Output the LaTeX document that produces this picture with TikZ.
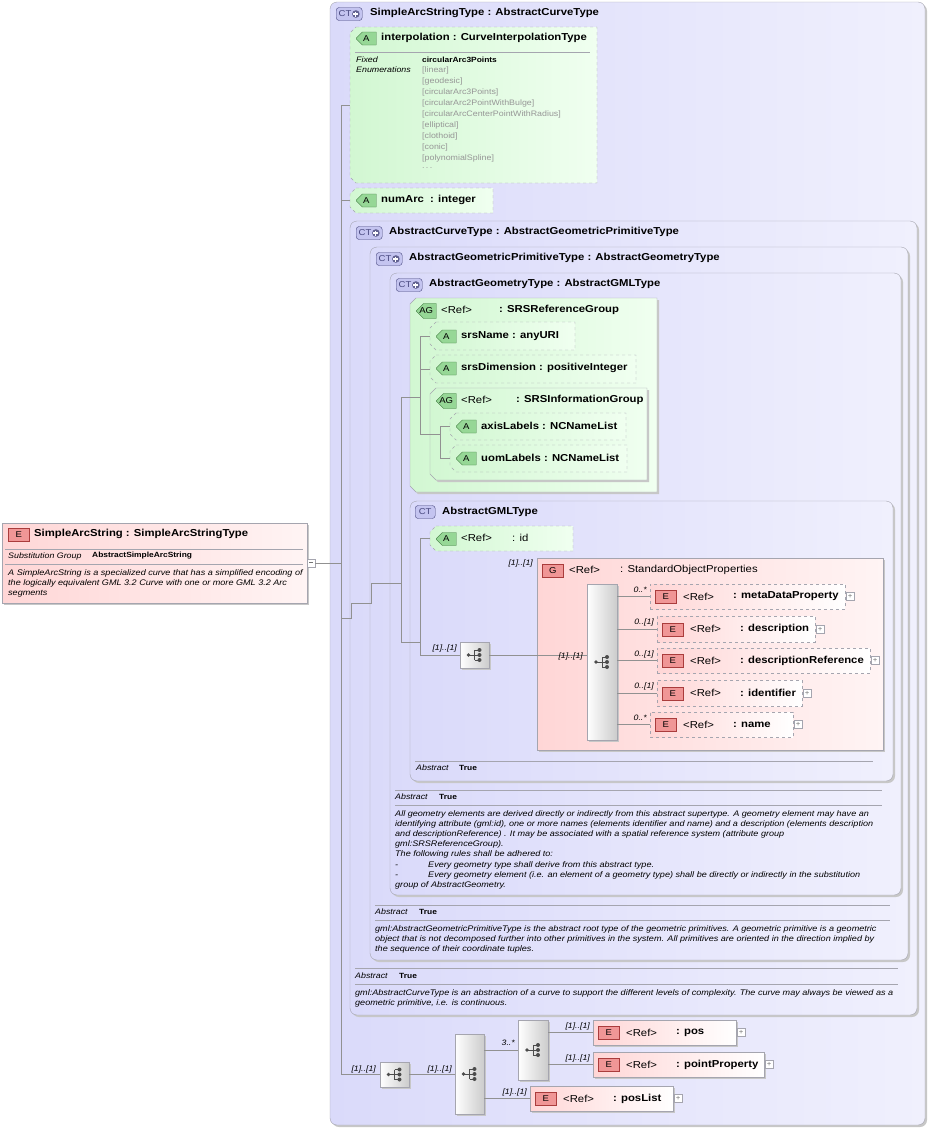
\documentclass[tikz,border=0pt]{standalone}
\usepackage{fontspec}
\setmainfont{Liberation Sans}[FakeStretch=1.12]
\usetikzlibrary{fit,shapes.misc,shadows}

\definecolor{ctL}{RGB}{218,218,250}
\definecolor{ctR}{RGB}{240,240,253}
\definecolor{grnL}{RGB}{210,247,210}
\definecolor{grnR}{RGB}{240,255,240}
\definecolor{pnkL}{RGB}{255,214,214}
\definecolor{pnkR}{RGB}{255,244,244}
\definecolor{boxline}{RGB}{165,165,175}
\definecolor{wirecol}{RGB}{145,145,145}
\definecolor{ctbfill}{RGB}{196,196,240}
\definecolor{ctbline}{RGB}{70,70,125}
\definecolor{abfill}{RGB}{150,215,150}
\definecolor{abline}{RGB}{60,120,60}
\definecolor{ebfill}{RGB}{240,150,150}
\definecolor{ebline}{RGB}{170,60,60}
\definecolor{enumgray}{RGB}{150,150,150}

\tikzset{
  shadowed/.style={drop shadow={shadow xshift=2pt, shadow yshift=-2pt, fill=black!22, opacity=1}},
  ctbox/.style={draw=boxline, rounded corners=7pt, left color=ctL, right color=ctR, inner sep=0pt, shadowed},
  attfill/.style={draw=boxline, dashed, left color=grnL, right color=grnR},
  agfill/.style={draw=boxline, left color=grnL, right color=grnR, shadowed},
  grpbox/.style={draw=boxline, left color=pnkL, right color=pnkR, inner sep=0pt, shadowed},
  elbox/.style={draw=boxline, left color=pnkL, right color=white, inner sep=0pt},
  elopt/.style={dashed},
  elreq/.style={shadowed},
  compbox/.style={draw=boxline, left color=white, right color=black!20, inner sep=0pt, shadowed},
  ctbadge/.style={draw=ctbline, fill=ctbfill, rounded corners=3pt, minimum width=26pt, minimum height=13pt,
    inner sep=0pt, text=ctbline, font=\fontsize{8.5}{9}\selectfont},
  abadge/.style={chamfered rectangle, chamfered rectangle corners={north west,south west},
    chamfered rectangle xsep=3pt, chamfered rectangle ysep=4.5pt, draw=abline, fill=abfill,
    minimum width=20pt, minimum height=13pt, inner sep=0pt, font=\fontsize{8.5}{9}\selectfont},
  ebadge/.style={draw=ebline, fill=ebfill, minimum width=21pt, minimum height=13pt, inner sep=0pt,
    font=\fontsize{8.5}{9}\selectfont},
  ttl/.style={anchor=west, inner sep=0pt, font=\fontsize{10.1}{12}\selectfont\bfseries},
  reg/.style={anchor=west, inner sep=0pt, font=\fontsize{10.1}{12}\selectfont},
  mult/.style={anchor=east, inner sep=0pt, font=\fontsize{7.8}{8}\selectfont\itshape},
  note/.style={anchor=north west, inner sep=0pt, align=left, font=\fontsize{8.1}{10.2}\selectfont\itshape},
  small/.style={anchor=west, inner sep=0pt, font=\fontsize{7.9}{8}\selectfont},
  smallit/.style={small, font=\fontsize{7.9}{8}\selectfont\itshape},
  smallbf/.style={small, font=\fontsize{7.5}{8}\selectfont\bfseries},
  plusbox/.style={draw=boxline, fill=white, minimum size=8pt, inner sep=0pt, text=black!55,
    font=\fontsize{7}{7}\selectfont},
  wire/.style={draw=wirecol, line width=0.6pt},
  sep/.style={draw=boxline, line width=0.6pt},
  seqicon/.pic={
    \draw[black!70, line width=0.9pt] (-6,0) -- (0,0) (0,-5) -- (0,5);
    \foreach \dy in {-5,0,5} \draw[black!70, line width=0.9pt] (0,\dy) -- (4,\dy);
    \fill[black!70] (-6,0) circle (1.8pt);
    \foreach \dy in {-5,0,5} \fill[black!70] (5,\dy) circle (2pt);
  }
}

% complex type mark: CT with a plus
\newcommand{\ctmark}[3]{%
  \node[ctbadge, anchor=west] (#1) at (#2,#3) {};
  \node[anchor=west, inner sep=0pt, text=ctbline, font=\fontsize{8.5}{9}\selectfont] (#1t) at ([xshift=2.5pt]#1.west) {CT};
  \fill[ctbline!85] ([xshift=-6.5pt]#1.east) circle (3.8pt);
  \draw[white, line width=1.1pt] ([xshift=-9pt]#1.east) -- ([xshift=-4pt]#1.east)
    ([xshift=-6.5pt,yshift=2.5pt]#1.east) -- ([xshift=-6.5pt,yshift=-2.5pt]#1.east);
}
% box with cut corners on the left: name, style, x1, y1, x2, y2
\newcommand{\chamf}[6]{%
  \path[#2] (#3+6,#4) -- (#5,#4) -- (#5,#6) -- (#3+6,#6) -- (#3,#6-6) -- (#3,#4+6) -- cycle;
  \node[fit={(#3,#4) (#5,#6)}, inner sep=0pt] (#1) {};
}
% attribute box: name, x1, y1, x2, y2, title y, title
\newcommand{\attrbox}[7]{%
  \chamf{#1}{attfill}{#2}{#3}{#4}{#5}
  \node[abadge, anchor=west] (#1b) at (#2+6,#6+0.5) {A};
  \node[ttl] (#1t) at (#2+31,#6) {#7};
}
% element box: name, style, x1, y1, x2, y2, ref name
\newcommand{\elembox}[7]{%
  \node[elbox, #2, fit={(#3,#4) (#5,#6)}] (#1) {};
  \node[ebadge, anchor=west] (#1b) at (#3+5,{(#4+#6)/2+0.5}) {E};
  \node[reg] (#1r) at (#3+33,{(#4+#6)/2}) {<Ref>};
  \node[ttl] (#1t) at (#3+83,{(#4+#6)/2}) {: #7};
  \node[plusbox, anchor=west] (#1p) at (#5+1,{(#4+#6)/2}) {+};
}

\begin{document}
\begin{tikzpicture}[x=1pt,y=-1pt]
\useasboundingbox (0,0) rectangle (930,1128);

% the element
\node[grpbox, fit={(2,523) (307,603)}] (sas) {};
\node[ebadge, anchor=west] (sasb) at (8,535) {E};
\node[ttl] (sast) at (34,534) {SimpleArcString : SimpleArcStringType};
\draw[sep] (5,549) -- (303,549);
\draw[sep] (5,564) -- (303,564);
\node[smallit] (sassub) at (8,556) {Substitution Group};
\node[smallbf] (sassubv) at (92,556) {AbstractSimpleArcString};
\node[note] (sasnote) at (8,569) {A SimpleArcString is a specialized curve that has a simplified encoding of\\
the logically equivalent GML 3.2 Curve with one or more GML 3.2 Arc\\
segments};
\node[plusbox, anchor=west] (sasm) at (307,563) {\rule[1.6pt]{4pt}{0.5pt}};

% complex types, outside in
\node[ctbox, fit={(330,2) (925,1125)}] (sastype) {};
\ctmark{sastypeb}{336}{14}
\node[ttl] (sastypet) at (370,13) {SimpleArcStringType : AbstractCurveType};

\attrbox{interp}{350}{27}{597}{183}{38}{interpolation : CurveInterpolationType}
\draw[sep] (355,52) -- (590,52);
\node[smallit] (fixed) at (356,60) {Fixed};
\node[smallit] (enums) at (356,70) {Enumerations};
\node[smallbf] (fixv) at (422,60) {circularArc3Points};
\foreach \v [count=\i] in {linear,geodesic,circularArc3Points,circularArc2PointWithBulge,
  circularArcCenterPointWithRadius,elliptical,clothoid,conic,polynomialSpline}
  \node[small, text=enumgray] (enum\i) at (422,{59+11*\i}) {[\v]};
\node[small, text=enumgray] (enummore) at (422,168) {.\,.\,.};

\attrbox{numarc}{350}{188}{493}{213}{200}{numArc\ \ : integer}

\node[ctbox, fit={(350,221) (917,1015)}] (act) {};
\ctmark{actb}{356}{233}
\node[ttl] (actt) at (389,232) {AbstractCurveType : AbstractGeometricPrimitiveType};

\node[ctbox, fit={(370,247) (908,960)}] (agpt) {};
\ctmark{agptb}{376}{259}
\node[ttl] (agptt) at (409,258) {AbstractGeometricPrimitiveType : AbstractGeometryType};

\node[ctbox, fit={(390,273) (901,895)}] (agt) {};
\ctmark{agtb}{396}{285}
\node[ttl] (agtt) at (429,284) {AbstractGeometryType : AbstractGMLType};

% attribute groups
\chamf{srsref}{agfill}{410}{298}{657}{492}
\node[abadge, anchor=west] (srsrefb) at (416,311) {AG};
\node[reg] (srsrefr) at (441,310) {<Ref>};
\node[ttl] (srsreft) at (499,310) {: SRSReferenceGroup};
\attrbox{srsname}{430}{322}{575}{350}{336}{srsName : anyURI}
\attrbox{srsdim}{430}{355}{636}{383}{368}{srsDimension : positiveInteger}
\chamf{srsinfo}{agfill}{430}{388}{647}{480}
\node[abadge, anchor=west] (srsinfob) at (436,401) {AG};
\node[reg] (srsinfor) at (461,400) {<Ref>};
\node[ttl] (srsinfot) at (516,400) {: SRSInformationGroup};
\attrbox{axis}{450}{413}{626}{440}{426}{axisLabels : NCNameList}
\attrbox{uom}{450}{445}{627}{472}{458}{uomLabels : NCNameList}

% AbstractGMLType
\node[ctbox, fit={(410,501) (893,781)}] (gml) {};
\node[ctbadge, minimum width=20pt, anchor=west] (gmlb) at (415,512) {CT};
\node[ttl] (gmlt) at (442,512) {AbstractGMLType};
\chamf{id}{attfill}{430}{526}{573}{551}
\node[abadge, anchor=west] (idb) at (436,539) {A};
\node[reg] (idr) at (461,538) {<Ref>};
\node[reg] (idt) at (512,538) {: id};

\node[grpbox, fit={(537,558) (883,750)}] (sop) {};
\node[ebadge, anchor=west] (sopb) at (542,571) {G};
\node[reg] (sopr) at (569,570) {<Ref>};
\node[reg] (sopt) at (620,570) {: StandardObjectProperties};
\node[compbox, fit={(587,584) (617,740)}] (sopseq) {};
\pic at (sopseq.center) {seqicon};
\elembox{meta}{elopt}{650}{584}{845}{609}{metaDataProperty}
\elembox{desc}{elopt}{657}{616}{815}{642}{description}
\elembox{descref}{elopt}{657}{648}{870}{673}{descriptionReference}
\elembox{ident}{elopt}{657}{680}{802}{706}{identifier}
\elembox{name}{elopt}{650}{712}{793}{737}{name}
\foreach \n in {meta,desc,descref,ident,name}
  \draw[wire] (sopseq.east |- \n.west) -- (\n.west);
\node[mult] (mmeta) at (647,590) {0..*};
\node[mult] (mdesc) at (654,622) {0..[1]};
\node[mult] (mdescref) at (654,654) {0..[1]};
\node[mult] (mident) at (654,686) {0..[1]};
\node[mult] (mname) at (647,718) {0..*};

\node[compbox, fit={(460,642) (489,668)}] (gmlseq) {};
\pic at (gmlseq.center) {seqicon};
\draw[wire] (gmlseq.east) -- (gmlseq.east -| sopseq.west);
\node[mult] (mgmlseq) at (457,648) {[1]..[1]};
\node[mult] (msop) at (533,563) {[1]..[1]};
\node[mult] (msopseq) at (583,656) {[1]..[1]};

% abstract notes
\draw[sep] (415,761) -- (873,761);
\node[smallit] (gmlab) at (416,768) {Abstract};
\node[smallbf] (gmlabv) at (459,768) {True};

\draw[sep] (395,790) -- (882,790);
\draw[sep] (395,805) -- (882,805);
\node[smallit] (agtab) at (395,797) {Abstract};
\node[smallbf] (agtabv) at (439,797) {True};
\node[note] (agtnote) at (395,810) {All geometry elements are derived directly or indirectly from this abstract supertype. A geometry element may have an\\
identifying attribute (gml:id), one or more names (elements identifier and name) and a description (elements description\\
and descriptionReference) . It may be associated with a spatial reference system (attribute group\\
gml:SRSReferenceGroup).\\
The following rules shall be adhered to:\\
-\hspace{30pt}Every geometry type shall derive from this abstract type.\\
-\hspace{30pt}Every geometry element (i.e. an element of a geometry type) shall be directly or indirectly in the substitution\\
group of AbstractGeometry.};

\draw[sep] (375,905) -- (890,905);
\draw[sep] (375,920) -- (890,920);
\node[smallit] (agptab) at (375,912) {Abstract};
\node[smallbf] (agptabv) at (419,912) {True};
\node[note] (agptnote) at (375,925) {gml:AbstractGeometricPrimitiveType is the abstract root type of the geometric primitives. A geometric primitive is a geometric\\
object that is not decomposed further into other primitives in the system. All primitives are oriented in the direction implied by\\
the sequence of their coordinate tuples.};

\draw[sep] (355,968) -- (898,968);
\draw[sep] (355,984) -- (898,984);
\node[smallit] (actab) at (355,976) {Abstract};
\node[smallbf] (actabv) at (399,976) {True};
\node[note] (actnote) at (355,989) {gml:AbstractCurveType is an abstraction of a curve to support the different levels of complexity. The curve may always be viewed as a\\
geometric primitive, i.e. is continuous.};

% content model at the bottom
\node[compbox, fit={(380,1062) (409,1087)}] (c1) {};
\node[compbox, fit={(455,1034) (484,1114)}] (c2) {};
\node[compbox, fit={(518,1020) (548,1080)}] (c3) {};
\foreach \c in {c1,c2,c3} \pic at (\c.center) {seqicon};
\elembox{pos}{elreq}{593}{1020}{736}{1045}{pos}
\elembox{ptprop}{elreq}{593}{1052}{764}{1077}{pointProperty}
\elembox{poslist}{elreq}{530}{1086}{673}{1111}{posList}
\draw[wire] (c1.east) -- (c1.east -| c2.west);
\draw[wire] (c3.west -| c2.east) -- (c3.west);
\draw[wire] (c3.east |- pos.west) -- (pos.west);
\draw[wire] (c3.east |- ptprop.west) -- (ptprop.west);
\draw[wire] (c2.east |- poslist.west) -- (poslist.west);
\node[mult] (mc1) at (376,1069) {[1]..[1]};
\node[mult] (mc2) at (452,1069) {[1]..[1]};
\node[mult] (mc3) at (515,1043) {3..*};
\node[mult] (mpos) at (590,1026) {[1]..[1]};
\node[mult] (mptprop) at (590,1058) {[1]..[1]};
\node[mult] (mposlist) at (527,1092) {[1]..[1]};

% tree lines
\coordinate (trunk) at (341,105);
\coordinate (j1) at (341,618);
\coordinate (j2) at (401,583);
\coordinate (j3) at (420,397);
\coordinate (j4) at (420,642);
\coordinate (j5) at (440,434);
\draw[wire] (interp.west) -- (trunk) -- (trunk |- c1.west) -- (c1.west);
\draw[wire] (numarc.west) -- (numarc.west -| trunk);
\draw[wire] (sasm.east) -- (sasm.east -| trunk);
\draw[wire] (j1) -| (351,603) -| (371,583) -- (j2);
\draw[wire] (j2 |- j3) -- (j2 |- j4) -- (j4);
\draw[wire] (j2 |- j3) -- (j3);
\draw[wire] (srsname.west) -| (j3 |- srsinfo.west) -- (srsinfo.west);
\draw[wire] (srsdim.west) -- (srsdim.west -| j3);
\draw[wire] (srsinfo.west) -- (j5);
\draw[wire] (axis.west) -| (j5 |- uom.west) -- (uom.west);
\draw[wire] (id.west) -| (j4 |- gmlseq.west) -- (gmlseq.west);
\end{tikzpicture}
\end{document}
